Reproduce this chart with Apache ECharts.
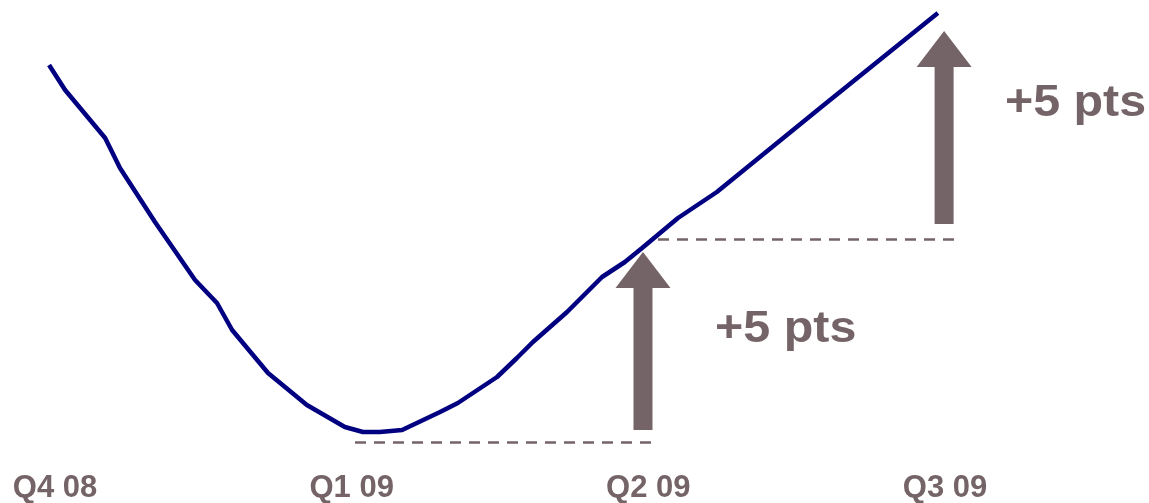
<!DOCTYPE html>
<html>
<head>
<meta charset="utf-8">
<script src="https://cdn.jsdelivr.net/npm/echarts@6/dist/echarts.min.js"></script>
<style>
html,body{margin:0;padding:0;background:#fff;}
#chart{width:1149px;height:503px;}
</style>
</head>
<body>
<div id="chart"></div>
<script>
// Tick labels (quarters)
var quarters = ['Q4 08', 'Q1 09', 'Q2 09', 'Q3 09'];
var tickValues = [0, 1, 2, 3];
// Index series: x in quarters since Q4 08, y in points
var seriesX = [-0.020, 0.034, 0.169, 0.219, 0.337, 0.472, 0.546, 0.597, 0.718, 0.849, 0.977, 1.038, 1.095, 1.170, 1.298, 1.358, 1.490, 1.557, 1.611, 1.726, 1.844, 1.921, 1.979, 2.100, 2.231, 2.579, 2.976];
var seriesY = [10.125, 9.50, 8.30, 7.55, 6.20, 4.75, 4.175, 3.50, 2.425, 1.625, 1.075, 0.95, 0.95, 1.00, 1.45, 1.675, 2.325, 2.80, 3.20, 3.95, 4.825, 5.20, 5.55, 6.30, 6.95, 9.05, 11.425];
// Reference (dashed) levels
var refStart = [1.011, 2.031];
var refEnd = [2.022, 3.046];
var refLevel = [0.70, 5.775];
// Arrows
var arrowX = [1.982, 2.997];
var arrowFrom = [1.0, 6.15];
var arrowTo = [5.45, 10.975];
var arrowText = ['+5 pts', '+5 pts'];
var labelX = [2.225, 3.202];
var labelY = [3.5, 9.16];

var TXT = '#756467';
var pts = seriesX.map(function (x, i) { return [x, seriesY[i]]; });
var refData = refStart.map(function (s, i) { return [s, refEnd[i], refLevel[i]]; });
var arrowData = arrowX.map(function (x, i) {
  return [x, arrowFrom[i], arrowTo[i], labelX[i], labelY[i], i];
});

var chart = echarts.init(document.getElementById('chart'), null, {renderer: 'canvas'});
chart.setOption({
  animation: false,
  backgroundColor: '#ffffff',
  grid: {left: 40.17, right: 174.33, top: 0, bottom: 33, containLabel: false, outerBoundsMode: 'none'},
  xAxis: {
    type: 'value', min: -0.05, max: 3.1,
    axisLine: {show: false}, axisTick: {show: false}, splitLine: {show: false},
    axisLabel: {
      customValues: tickValues,
      margin: 3,
      color: TXT, fontSize: 31, fontWeight: 'bold', fontFamily: 'Liberation Sans, Arial, sans-serif',
      formatter: function (v) { return quarters[Math.round(v)] || ''; }
    }
  },
  yAxis: {
    type: 'value', min: 0, max: 11.75, show: false, splitLine: {show: false}
  },
  series: [
    {
      type: 'custom', clip: false, z: 2,
      data: refData,
      renderItem: function (params, api) {
        var a = api.coord([api.value(0), api.value(2)]);
        var b = api.coord([api.value(1), api.value(2)]);
        var y = Math.round(a[1]) + 0.5;
        return {
          type: 'line',
          shape: {x1: Math.round(a[0]), y1: y, x2: Math.round(b[0]), y2: y},
          style: {stroke: TXT, lineWidth: 2.6, lineDash: [11, 8], fill: null}
        };
      }
    },
    {
      type: 'line', data: pts, clip: false, symbol: 'none', smooth: false,
      lineStyle: {color: '#000080', width: 4.5},
      z: 3
    },
    {
      type: 'custom', clip: false, z: 4,
      data: arrowData,
      renderItem: function (params, api) {
        var x = api.value(0);
        var base = api.coord([x, api.value(1)]);
        var tip = api.coord([x, api.value(2)]);
        var lab = api.coord([api.value(3), api.value(4)]);
        var cx = base[0];
        var sw = 9.5, hw = 27.5, hl = 36;
        var poly = [
          [cx - sw, base[1]], [cx - sw, tip[1] + hl], [cx - hw, tip[1] + hl],
          [cx, tip[1]], [cx + hw, tip[1] + hl], [cx + sw, tip[1] + hl], [cx + sw, base[1]]
        ];
        return {
          type: 'group',
          children: [
            {type: 'polygon', shape: {points: poly}, style: {fill: TXT}},
            {
              type: 'text', x: lab[0], y: lab[1], scaleX: 1.1, originX: 0, originY: 0,
              style: {
                text: arrowText[api.value(5)], fill: TXT,
                font: 'bold 44px "Liberation Sans", Arial, sans-serif',
                align: 'left', verticalAlign: 'middle'
              }
            }
          ]
        };
      }
    }
  ]
});
</script>
</body>
</html>
